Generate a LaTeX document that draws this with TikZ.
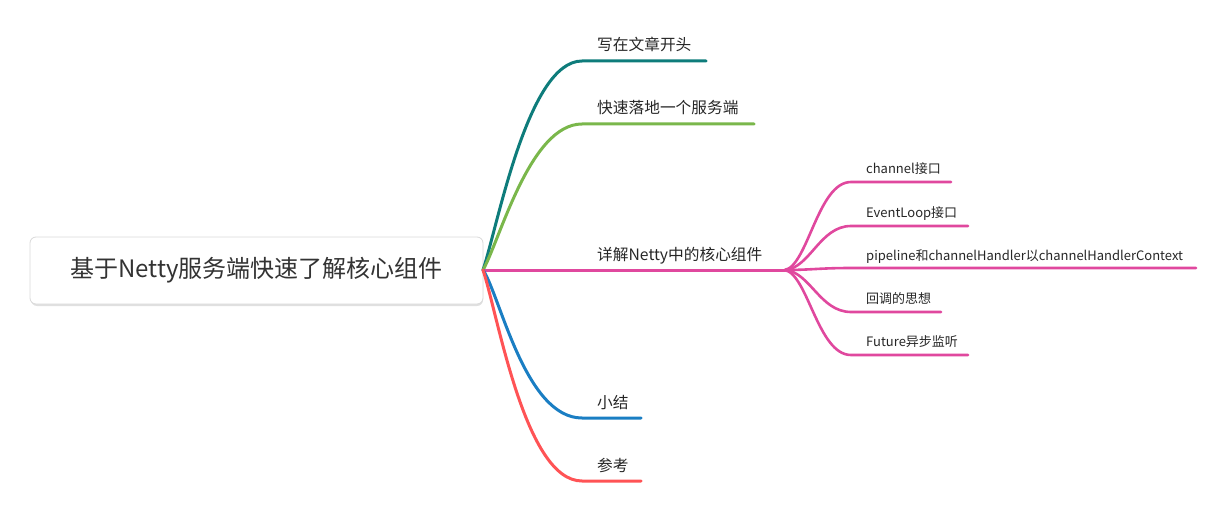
\documentclass[tikz,border=0pt]{standalone}
\usepackage{fontspec}
\setmainfont{Noto Sans CJK SC}
\begin{document}
\begin{tikzpicture}[x=1pt,y=-1pt,
  br/.style={line width=3pt,line cap=round},
  sb/.style={line width=2.6pt,line cap=round},
  lbl/.style={anchor=base west,inner sep=0pt,text=black!85,font=\fontsize{15.7}{17}\selectfont},
  slbl/.style={anchor=base west,inner sep=0pt,text=black!85,font=\fontsize{13}{15}\selectfont},
  rootbox/.style={draw=black!15,fill=white,rounded corners=6pt,line width=0.8pt,minimum width=453pt,minimum height=67pt,inner sep=0pt,font=\fontsize{24}{28}\selectfont,text=black!80}]
\definecolor{cteal}{HTML}{0E7C7B}
\definecolor{cgreen}{HTML}{7AB74B}
\definecolor{cpink}{HTML}{E0489E}
\definecolor{cblue}{HTML}{1A7EC3}
\definecolor{cred}{HTML}{FF5355}
\useasboundingbox (0,0) rectangle (1225,513);
% root
\fill[black!12,rounded corners=6pt] (31,239) rectangle (483,306);
\node[rootbox] (root) at (256.5,270.5) {基于Netty服务端快速了解核心组件};
\coordinate (o) at (483,270);
% first level
\coordinate (a1) at (582,61);  \coordinate (a2) at (706,61);
\coordinate (b1) at (582,124); \coordinate (b2) at (754,124);
\coordinate (c1) at (785,270);
\coordinate (d1) at (582,418); \coordinate (d2) at (641,418);
\coordinate (e1) at (582,481); \coordinate (e2) at (641,481);
\draw[br,cteal] (o) .. controls (498,225) and (528,61) .. (a1) -- (a2);
\draw[br,cgreen] (o) .. controls (500,240) and (530,124) .. (b1) -- (b2);
\draw[br,cpink] (o) -- (c1);
\draw[br,cblue] (o) .. controls (500,295) and (525,418) .. (d1) -- (d2);
\draw[br,cred] (o) .. controls (498,315) and (525,481) .. (e1) -- (e2);
\node[lbl] (ta) at (597,51) {写在文章开头};
\node[lbl] (tb) at (597,114) {快速落地一个服务端};
\node[lbl] (tc) at (597,260) {详解Netty中的核心组件};
\node[lbl] (td) at (597,408) {小结};
\node[lbl] (te) at (597,471) {参考};
% second level
\coordinate (s1a) at (851,182); \coordinate (s1b) at (951,182);
\coordinate (s2a) at (851,226); \coordinate (s2b) at (968,226);
\coordinate (s3a) at (851,268); \coordinate (s3b) at (1196,268);
\coordinate (s4a) at (851,312); \coordinate (s4b) at (941,312);
\coordinate (s5a) at (851,355); \coordinate (s5b) at (968,355);
\draw[sb,cpink] (c1) .. controls (808,265) and (818,182) .. (s1a) -- (s1b);
\draw[sb,cpink] (c1) .. controls (810,268) and (820,226) .. (s2a) -- (s2b);
\draw[sb,cpink] (c1) .. controls (810,270) and (820,268) .. (s3a) -- (s3b);
\draw[sb,cpink] (c1) .. controls (810,272) and (820,312) .. (s4a) -- (s4b);
\draw[sb,cpink] (c1) .. controls (808,275) and (818,355) .. (s5a) -- (s5b);
\node[slbl] (u1) at (866,174) {channel接口};
\node[slbl] (u2) at (866,217) {EventLoop接口};
\node[slbl] (u3) at (866,260) {pipeline和channelHandler以channelHandlerContext};
\node[slbl] (u4) at (866,303) {回调的思想};
\node[slbl] (u5) at (866,346) {Future异步监听};
\end{tikzpicture}
\end{document}
